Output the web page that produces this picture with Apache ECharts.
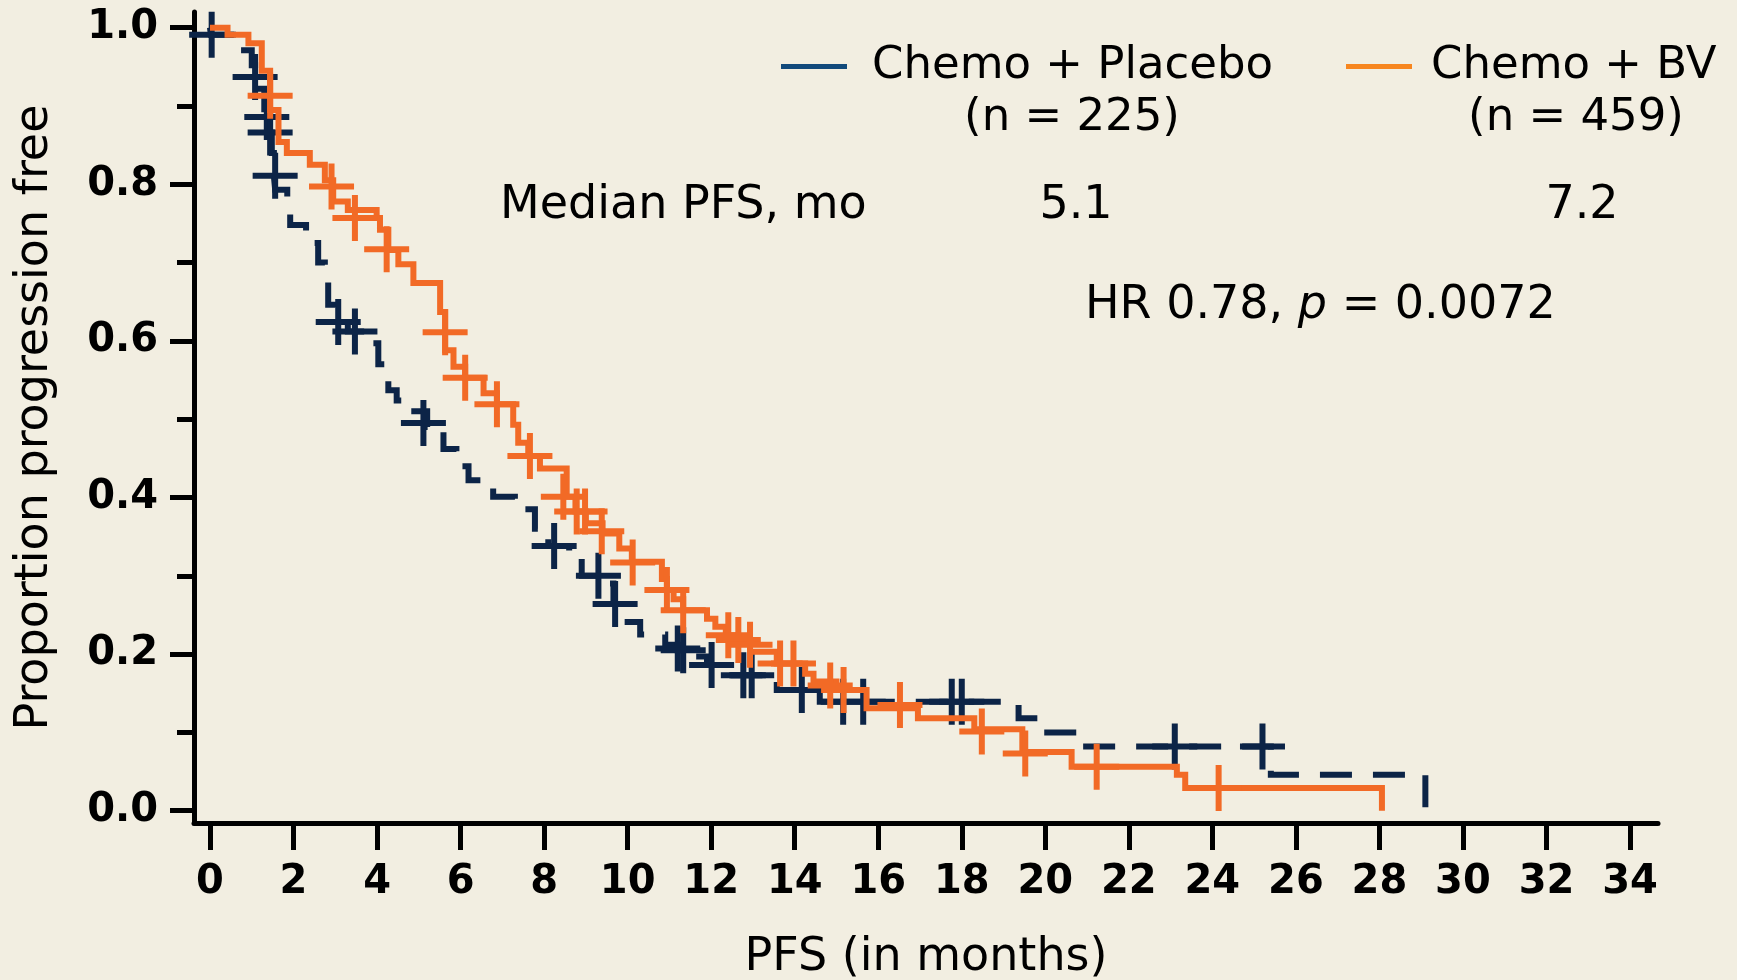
<!DOCTYPE html>
<html>
<head>
	<meta charset="utf-8" />
	<title>PFS Kaplan-Meier</title>
	<script src="https://cdn.jsdelivr.net/npm/echarts@6/dist/echarts.min.js"></script>
	<style type="text/css">
		html, body { margin: 0; padding: 0; background: #f2eee1; }
		#main { width: 1737px; height: 980px; }
	</style>
</head>
<body>
	<div id="main"></div>
	<script>
		// step points: time (months) and proportion after the drop
		var placeboTimes = [0, 0.02, 0.55, 1.0, 1.08, 1.3, 1.42, 1.48, 1.53, 1.56, 1.85, 1.92, 2.3, 2.59, 2.75, 2.83, 3.0, 3.3, 3.7, 4.03, 4.2, 4.27, 4.47, 4.7, 5.2, 5.59, 5.9, 6.19, 6.5, 6.78, 7.3, 7.78, 8.1, 8.6, 8.9, 9.5, 9.66, 9.9, 10.3, 10.9, 11.2, 11.6, 11.9, 12.4, 13.57, 14.6, 19.36, 19.9, 20.9, 25.4, 29.1];
		var placeboSurv = [1.0, 0.991, 0.971, 0.952, 0.922, 0.886, 0.866, 0.84, 0.81, 0.793, 0.771, 0.748, 0.725, 0.70, 0.68, 0.646, 0.624, 0.612, 0.597, 0.57, 0.556, 0.537, 0.524, 0.51, 0.49, 0.462, 0.44, 0.422, 0.416, 0.401, 0.385, 0.36, 0.338, 0.322, 0.30, 0.29, 0.264, 0.241, 0.225, 0.212, 0.205, 0.197, 0.186, 0.173, 0.154, 0.139, 0.118, 0.10, 0.082, 0.046, 0];

		var bvTimes = [0, 0.42, 0.92, 1.24, 1.44, 1.64, 1.84, 2.39, 2.75, 2.95, 3.3, 3.99, 4.07, 4.27, 4.51, 4.87, 5.51, 5.63, 5.83, 6.11, 6.55, 6.87, 7.26, 7.38, 7.62, 7.9, 8.54, 8.75, 9.0, 9.4, 9.8, 10.1, 10.82, 10.94, 11.1, 11.33, 11.9, 12.1, 12.35, 12.6, 12.93, 13.57, 14.25, 14.45, 15.0, 15.72, 16.95, 18.3, 19.45, 20.63, 23.15, 23.35, 28.06];
		var bvSurv = [1.0, 0.991, 0.98, 0.945, 0.895, 0.854, 0.84, 0.825, 0.805, 0.778, 0.767, 0.757, 0.742, 0.716, 0.698, 0.674, 0.637, 0.588, 0.567, 0.553, 0.533, 0.519, 0.493, 0.47, 0.453, 0.437, 0.401, 0.382, 0.367, 0.354, 0.335, 0.318, 0.296, 0.282, 0.27, 0.256, 0.245, 0.235, 0.224, 0.214, 0.203, 0.188, 0.175, 0.165, 0.154, 0.131, 0.118, 0.104, 0.075, 0.056, 0.046, 0.029, 0];

		// censored observations
		var placeboCensorTimes = [0.04, 1.08, 1.36, 1.44, 1.56, 3.07, 3.47, 5.11, 8.24, 9.3, 9.7, 11.2, 11.33, 12.01, 12.77, 12.97, 14.17, 15.16, 15.64, 17.76, 18.0, 23.1, 25.2];
		var placeboCensorSurv = [0.991, 0.937, 0.886, 0.866, 0.811, 0.624, 0.612, 0.495, 0.338, 0.30, 0.264, 0.207, 0.205, 0.186, 0.173, 0.173, 0.154, 0.139, 0.139, 0.139, 0.139, 0.082, 0.082];
		var bvCensorTimes = [1.44, 2.91, 3.47, 4.23, 5.63, 6.11, 6.87, 7.66, 8.46, 8.78, 8.98, 9.38, 10.12, 10.94, 11.33, 12.41, 12.65, 12.93, 13.65, 13.97, 14.85, 15.17, 16.52, 18.48, 19.52, 21.23, 24.15];
		var bvCensorSurv = [0.913, 0.797, 0.757, 0.717, 0.611, 0.553, 0.519, 0.453, 0.401, 0.382, 0.382, 0.357, 0.317, 0.282, 0.256, 0.224, 0.218, 0.212, 0.188, 0.188, 0.16, 0.154, 0.135, 0.101, 0.073, 0.056, 0.029];

		var xTicks = [0, 2, 4, 6, 8, 10, 12, 14, 16, 18, 20, 22, 24, 26, 28, 30, 32, 34];
		var yTicks = [0, 0.2, 0.4, 0.6, 0.8, 1.0];
		var yMinorTicks = [0.1, 0.3, 0.5, 0.7, 0.9];

		var navy = '#0c2447';
		var orange = '#f26a26';
		var font = 'DejaVu Sans';
		var plus = 'path://M-3,-23h6v20h19.5v6h-19.5v20h-6v-20h-19.5v-6h19.5z';

		function pairs(xs, ys) {
			return xs.map(function (x, i) { return [x, ys[i]]; });
		}

		var myChart = echarts.init(document.getElementById('main'));

		var axisLineStyle = { color: '#000', width: 5 };

		var option = {
			animation: false,
			backgroundColor: '#f2eee1',
			grid: { left: 194, right: 79, top: 12, bottom: 157, outerBoundsMode: 'none' },
			legend: [
				{
					left: 781, top: 44, padding: 0,
					icon: 'rect', itemWidth: 66, itemHeight: 5,
					data: [{ name: 'Chemo + Placebo', itemStyle: { color: '#124a7b' } }],
					textStyle: { fontFamily: font, fontSize: 45, color: '#000', padding: [0, 0, 0, 20] }
				},
				{
					left: 1346, top: 44, padding: 0,
					icon: 'rect', itemWidth: 66, itemHeight: 5,
					data: [{ name: 'Chemo + BV', itemStyle: { color: '#f7861f' } }],
					textStyle: { fontFamily: font, fontSize: 45, color: '#000', padding: [0, 0, 0, 14] }
				}
			],
			xAxis: {
				type: 'value',
				min: -0.383,
				max: 34.67,
				splitLine: { show: false },
				axisLine: { onZero: false, lineStyle: axisLineStyle },
				axisTick: { customValues: xTicks, length: 27, lineStyle: { color: '#000', width: 5 } },
				axisLabel: { customValues: xTicks, margin: 40, fontFamily: font, fontSize: 40, fontWeight: 'bold', color: '#000' },
				name: 'PFS (in months)',
				nameLocation: 'middle',
				nameGap: 112,
				nameTextStyle: { fontFamily: font, fontSize: 46, color: '#000' }
			},
			yAxis: [
				{
					type: 'value',
					min: -0.0157,
					max: 1.02,
					splitLine: { show: false },
					axisLine: { onZero: false, lineStyle: axisLineStyle },
					axisTick: { customValues: yTicks, length: 24, lineStyle: { color: '#000', width: 5 } },
					axisLabel: {
						customValues: yTicks, margin: 36, fontFamily: font, fontSize: 40, fontWeight: 'bold', color: '#000',
						formatter: function (v) { return v.toFixed(1); }
					},
					name: 'Proportion progression free',
					nameLocation: 'middle',
					nameGap: 136,
					nameTextStyle: { fontFamily: font, fontSize: 46, color: '#000' }
				},
				{
					// minor ticks only
					type: 'value',
					min: -0.0157,
					max: 1.02,
					position: 'left',
					splitLine: { show: false },
					axisLine: { show: false, onZero: false },
					axisTick: { customValues: yMinorTicks, length: 17, lineStyle: { color: '#000', width: 5 } },
					axisLabel: { show: false }
				}
			],
			series: [
				{
					name: 'Chemo + Placebo',
					type: 'line',
					step: 'end',
					symbol: 'none',
					data: pairs(placeboTimes, placeboSurv),
					lineStyle: { color: navy, width: 6, type: [32, 21], cap: 'butt', join: 'miter' },
					itemStyle: { color: navy },
					z: 2
				},
				{
					name: 'Chemo + Placebo',
					type: 'scatter',
					symbol: plus,
					symbolSize: [45, 46],
					clip: false,
					data: pairs(placeboCensorTimes, placeboCensorSurv),
					itemStyle: { color: navy, opacity: 1 },
					z: 3
				},
				{
					name: 'Chemo + BV',
					type: 'line',
					step: 'end',
					symbol: 'none',
					data: pairs(bvTimes, bvSurv),
					lineStyle: { color: orange, width: 6, join: 'miter' },
					itemStyle: { color: orange },
					z: 4
				},
				{
					name: 'Chemo + BV',
					type: 'scatter',
					symbol: plus,
					symbolSize: [45, 46],
					clip: false,
					data: pairs(bvCensorTimes, bvCensorSurv),
					itemStyle: { color: orange, opacity: 1 },
					z: 5
				}
			],
			graphic: [
				{ type: 'text', style: { text: '(n = 225)', x: 1072, y: 118, align: 'center', verticalAlign: 'middle', fontFamily: font, fontSize: 45, fill: '#000' } },
				{ type: 'text', style: { text: '(n = 459)', x: 1576, y: 118, align: 'center', verticalAlign: 'middle', fontFamily: font, fontSize: 45, fill: '#000' } },
				{ type: 'text', style: { text: 'Median PFS, mo', x: 500, y: 206, align: 'left', verticalAlign: 'middle', fontFamily: font, fontSize: 46, fill: '#000' } },
				{ type: 'text', style: { text: '5.1', x: 1076, y: 206, align: 'center', verticalAlign: 'middle', fontFamily: font, fontSize: 46, fill: '#000' } },
				{ type: 'text', style: { text: '7.2', x: 1582, y: 206, align: 'center', verticalAlign: 'middle', fontFamily: font, fontSize: 46, fill: '#000' } },
				{
					type: 'text',
					style: {
						text: '{n|HR 0.78, }{i|p}{n| = 0.0072}',
						x: 1085, y: 306, align: 'left', verticalAlign: 'middle',
						rich: {
							n: { fontFamily: font, fontSize: 46, fill: '#000', color: '#000' },
							i: { fontFamily: font, fontSize: 46, fontStyle: 'italic', fill: '#000', color: '#000' }
						}
					}
				}
			]
		};

		myChart.setOption(option);
	</script>
</body>
</html>
